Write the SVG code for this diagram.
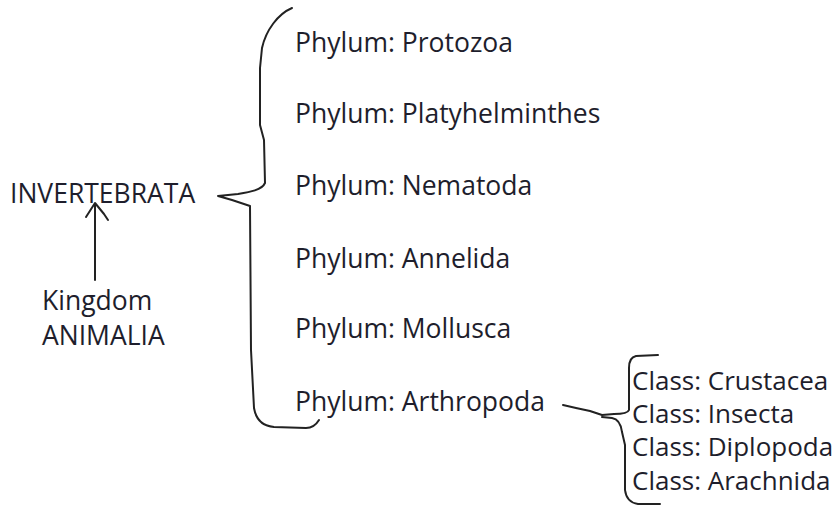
<svg xmlns="http://www.w3.org/2000/svg" width="838" height="508" viewBox="0 0 838 508">
<style>
text{font-family:"Open Sans","Noto Sans","DejaVu Sans",sans-serif;font-size:26.5px;fill:#1e1e2c}
.cls{font-size:26px}
.ln{fill:none;stroke:#222;stroke-width:2;stroke-linecap:round;stroke-linejoin:round}
</style>
<rect width="838" height="508" fill="#fff"/>
<g id="invertebrata"><text x="10" y="203">INVERTEBRATA</text></g>
<g id="kingdom"><text x="42" y="310">Kingdom</text><text x="42" y="345">ANIMALIA</text></g>
<g id="protozoa"><text x="295" y="52">Phylum: Protozoa</text></g>
<g id="platy"><text x="295" y="123">Phylum: Platyhelminthes</text></g>
<g id="nematoda"><text x="295" y="195">Phylum: Nematoda</text></g>
<g id="annelida"><text x="295" y="268">Phylum: Annelida</text></g>
<g id="mollusca"><text x="295" y="338">Phylum: Mollusca</text></g>
<g id="arthropoda"><text x="295" y="411">Phylum: Arthropoda</text></g>
<g id="crustacea"><text class="cls" x="632" y="390">Class: Crustacea</text></g>
<g id="insecta"><text class="cls" x="632" y="423">Class: Insecta</text></g>
<g id="diplopoda"><text class="cls" x="632" y="456">Class: Diplopoda</text></g>
<g id="arachnida"><text class="cls" x="632" y="490">Class: Arachnida</text></g>
<g id="connectors">
<path class="ln" d="M292,8 C278,14 266,30 262,48 L260,68 L260,125 L264,140 L265,183 C262,190 250,192 238,194 L218,196 L232,200 L250,206 L251,350 L254,408 C256,420 262,426 274,427 L306,428 C312,428 316,425 319,420"/>
<path class="ln" d="M95,280 L95,205"/>
<path class="ln" d="M86,217 L95,203 L104,214 L108,220"/>
<path class="ln" d="M658,355 L636,356 C631,357 629,362 629,368 L629,410 C628,413 622,414 614,414 L602,415 L590,411 L576,408 L563,405"/>
<path class="ln" d="M602,417 L612,418 C618,419 621,424 622,432 L625,445 L625,490 C626,498 630,503 638,504 L660,504"/>
</g>
</svg>
